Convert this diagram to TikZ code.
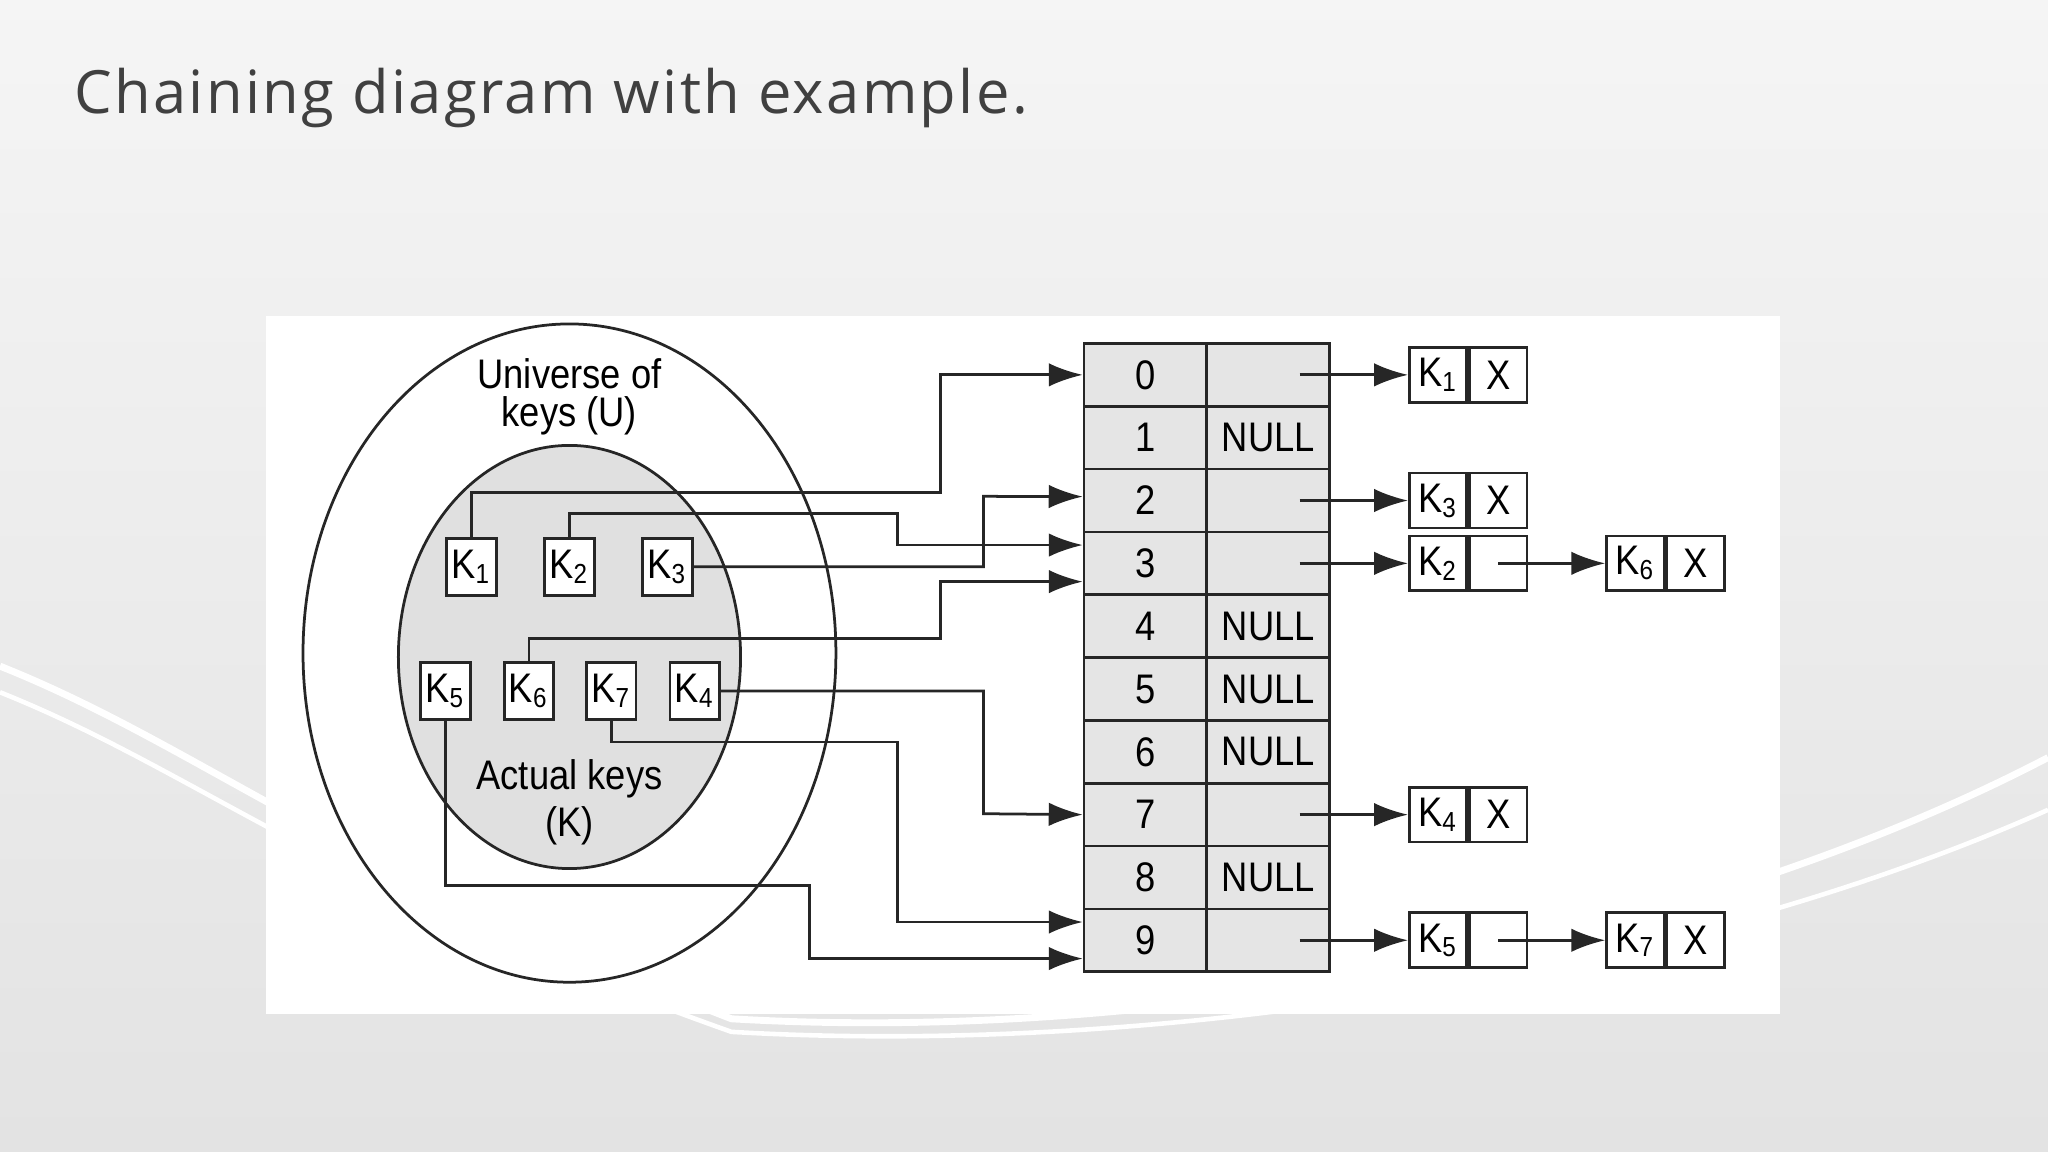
\documentclass[tikz,border=0pt]{standalone}
\usepackage{fontspec}
\setmainfont{Liberation Sans}[FakeStretch=0.88]
\newfontfamily\titlefont{Open Sans}
\usetikzlibrary{arrows.meta}
\begin{document}
\begin{tikzpicture}[x=0.1mm,y=-0.1mm,
  ln/.style={line width=0.6pt,black!85},
  arr/.style={ln,-{Latex[length=2.6mm,width=1.8mm]}},
  key/.style={draw=black!85,line width=0.6pt,fill=white,minimum width=38*0.1mm,minimum height=44*0.1mm,inner sep=0pt,font=\fontsize{9}{9}\selectfont},
  cell/.style={draw=black!85,line width=0.6pt,fill=black!10,minimum width=94*0.1mm,minimum height=48.1*0.1mm,inner sep=0pt,font=\fontsize{9}{9}\selectfont},
  half/.style={draw=black!85,line width=0.6pt,fill=white,minimum width=44*0.1mm,minimum height=42*0.1mm,inner sep=0pt,font=\fontsize{9}{9}\selectfont},
  lbl/.style={font=\fontsize{9}{10}\selectfont,inner sep=0pt}]
\useasboundingbox (0,0) rectangle (1568,882);
\shade[top color=black!4,bottom color=black!11] (0,0) rectangle (1568,882);
\draw[white,line width=1.5pt] (0,510) .. controls (150,570) and (250,660) .. (560,780) .. controls (900,800) and (1300,720) .. (1568,580);
\draw[white,line width=1pt] (0,530) .. controls (150,590) and (250,680) .. (560,790) .. controls (900,810) and (1300,740) .. (1568,620);
\fill[white] (204,242) rectangle (1363,776);
% ellipses
\draw[ln] (436,500) ellipse [x radius=204,y radius=-252];
\draw[ln,fill=black!12] (436,503) ellipse [x radius=131,y radius=-162];
\node[lbl] (u1) at (436,286) {Universe of};
\node[lbl] (u2) at (436,318) {keys (U)};
\node[lbl] (a1) at (436,596) {Actual keys};
\node[lbl] (a2) at (436,632) {(K)};
% keys
\node[key] (k1) at (361,434) {K\textsubscript{1}};
\node[key] (k2) at (436,434) {K\textsubscript{2}};
\node[key] (k3) at (511,434) {K\textsubscript{3}};
\node[key] (k5) at (341,529) {K\textsubscript{5}};
\node[key] (k6) at (405,529) {K\textsubscript{6}};
\node[key] (k7) at (468,529) {K\textsubscript{7}};
\node[key] (k4) at (532,529) {K\textsubscript{4}};
% table
\foreach \i/\v in {0/,1/NULL,2/,3/,4/NULL,5/NULL,6/NULL,7/,8/NULL,9/}{
  \node[cell] (i\i) at (877,287+48.1*\i) {\i};
  \node[cell] (v\i) at (971,287+48.1*\i) {\v};
}
% connectors from keys
\draw[arr] (k1.north) |- (720,377) |- (i0.west);
\draw[arr] (k2.north) |- (687,393) |- ([yshift=14*0.1mm]i3.west);
\draw[arr] (k3.east) -| (753,380) -- ([yshift=3*0.1mm]i2.west);
\draw[arr] (k6.north) |- (720,489) |- ([yshift=-14*0.1mm]i3.west);
\draw[arr] (k4.east) -| (753,623) -- (i7.west);
\draw[arr] (k7.south) |- (687,568) |- ([yshift=14*0.1mm]i9.west);
\draw[arr] (k5.south) |- (620,678) |- ([yshift=-14*0.1mm]i9.west);
% chains
\foreach \r/\k in {0/1,2/3,7/4}{
  \node[half,anchor=west] (c\r) at (1078,287+48.1*\r) {K\textsubscript{\k}};
  \node[half,anchor=west] (x\r) at (c\r.east) {X};
  \coordinate (p\r) at (995,287+48.1*\r);
  \draw[arr] (p\r) -- (c\r.west);
}
\foreach \r/\k/\kk in {3/2/6,9/5/7}{
  \node[half,anchor=west] (c\r) at (1078,287+48.1*\r) {K\textsubscript{\k}};
  \node[half,anchor=west] (x\r) at (c\r.east) {};
  \node[half,anchor=west] (d\r) at (1229,287+48.1*\r) {K\textsubscript{\kk}};
  \node[half,anchor=west] (y\r) at (d\r.east) {X};
  \coordinate (p\r) at (995,287+48.1*\r);
  \coordinate (q\r) at (x\r.center);
  \draw[arr] (p\r) -- (c\r.west);
  \draw[arr] (q\r) -- (d\r.west);
}
% title
\node[anchor=west,inner sep=0pt,text=black!75,font=\titlefont\fontsize{13}{14}\addfontfeature{LetterSpace=4}\selectfont] (t) at (56,75) {Chaining diagram with example.};
\end{tikzpicture}
\end{document}
